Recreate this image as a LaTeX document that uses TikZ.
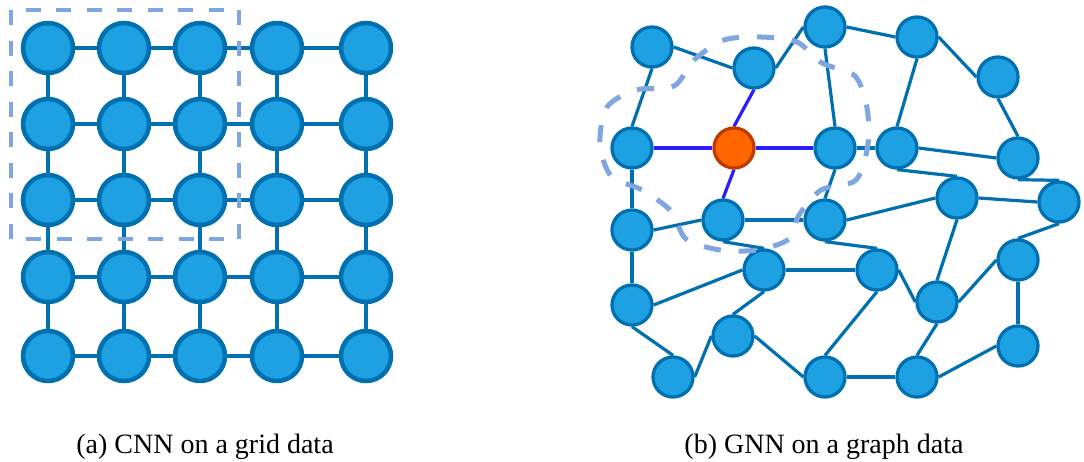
\documentclass[tikz,border=0pt]{standalone}
\usepackage{fontspec}
\setmainfont{Liberation Serif}
\pgfdeclarelayer{bg}
\pgfdeclarelayer{fg}
\pgfsetlayers{bg,main,fg}
\definecolor{nodefill}{RGB}{29,161,226}
\definecolor{nodeline}{RGB}{0,112,176}
\definecolor{hubfill}{RGB}{255,102,0}
\definecolor{hubline}{RGB}{192,58,0}
\definecolor{nbline}{RGB}{40,30,255}
\definecolor{fieldline}{RGB}{128,166,224}
\tikzset{
    cell/.style={circle, draw=nodeline, fill=nodefill, line width=4.5pt, minimum size=50pt, inner sep=0pt},
    vtx/.style={circle, draw=nodeline, fill=nodefill, line width=3.3pt, minimum size=40pt, inner sep=0pt},
    hub/.style={vtx, draw=hubline, fill=hubfill},
    link/.style={draw=nodeline, line width=3.2pt},
    nblink/.style={draw=nbline, line width=3.2pt},
    field/.style={draw=fieldline, line width=4pt, dash pattern=on 15pt off 15.5pt},
    caption/.style={anchor=base, font=\fontsize{28}{34}\selectfont}
}

\begin{document}
\begin{tikzpicture}[x=1pt, y=-1pt]
    \useasboundingbox (0,0) rectangle (1084,461);

    \foreach \x [count=\i] in {48,124,200,277,366} {
        \foreach \y [count=\j] in {48,124,200,277,356} {
            \node[cell] (G\i\j) at (\x,\y) {};
        }
    }
    \begin{pgfonlayer}{bg}
        \foreach \a/\b in {1/2,2/3,3/4,4/5} {
            \foreach \i in {1,...,5} {
                \draw[link, line width=3.5pt] (G\a\i) -- (G\b\i);
                \draw[link, line width=3.5pt] (G\i\a) -- (G\i\b);
            }
        }
    \end{pgfonlayer}
    \begin{pgfonlayer}{fg}
        \draw[field] (11,10) rectangle (239,239);
    \end{pgfonlayer}

    \node[vtx] (A) at (652,47) {};
    \node[vtx] (B) at (754,68) {};
    \node[vtx] (C) at (825,27) {};
    \node[vtx] (D) at (632,148) {};
    \node[hub] (E) at (734,148) {};
    \node[vtx] (F) at (835,148) {};
    \node[vtx] (G) at (917,37) {};
    \node[vtx] (H) at (998,77) {};
    \node[vtx] (I) at (897,148) {};
    \node[vtx] (J) at (1018,158) {};
    \node[vtx] (K) at (632,230) {};
    \node[vtx] (L) at (723,220) {};
    \node[vtx] (M) at (825,220) {};
    \node[vtx] (N) at (764,270) {};
    \node[vtx] (O) at (632,305) {};
    \node[vtx] (P) at (733,336) {};
    \node[vtx] (Q) at (673,377) {};
    \node[vtx] (R) at (825,377) {};
    \node[vtx] (S) at (957,198) {};
    \node[vtx] (T) at (1059,202) {};
    \node[vtx] (U) at (877,270) {};
    \node[vtx] (V) at (1018,260) {};
    \node[vtx] (W) at (937,302) {};
    \node[vtx] (X) at (1018,346) {};
    \node[vtx] (Y) at (917,377) {};

    \begin{pgfonlayer}{bg}
        \foreach \p/\q in {A.east/B.west, A.south/D.north, B.east/C.west, C.east/G.west,
                C.south/F.north, G.east/H.west, G.south/I.north, H.south/J.north,
                F.east/I.west, I.east/J.west, I.south/S.north, J.south/T.north,
                D.south/K.north, K.east/L.west, L.east/M.west, L.south/N.north,
                F.south/M.north, M.east/S.west, M.south/U.north, S.east/T.west,
                S.south/W.north, T.south/V.north, N.east/U.west, N.west/O.east,
                N.south/P.north, K.south/O.north, O.south/Q.north, P.west/Q.east,
                P.east/R.west, R.north/U.south, U.east/W.west, W.east/V.west,
                V.south/X.north, W.south/Y.north, R.east/Y.west, Y.east/X.west} {
            \draw[link] (\p) -- (\q);
        }
        \foreach \p/\q in {B.south/E.north, D.east/E.west, E.east/F.west, E.south/L.north} {
            \draw[nblink] (\p) -- (\q);
        }
    \end{pgfonlayer}
    \begin{pgfonlayer}{fg}
        \draw[field, line width=5pt, dash pattern=on 17pt off 18pt] plot[smooth cycle] coordinates {
            (600,143) (607,107) (636,90) (674,86) (694,60) (724,40) (761,37) (797,42)
            (822,63) (855,76) (867,108) (868,144) (856,180) (821,190) (799,215) (789,239)
            (757,250) (720,250) (686,239) (671,211) (642,190) (611,176)};
    \end{pgfonlayer}

    \node[caption] (capa) at (205,453) {(a) CNN on a grid data};
    \node[caption] (capb) at (824,453) {(b) GNN on a graph data};
\end{tikzpicture}
\end{document}
